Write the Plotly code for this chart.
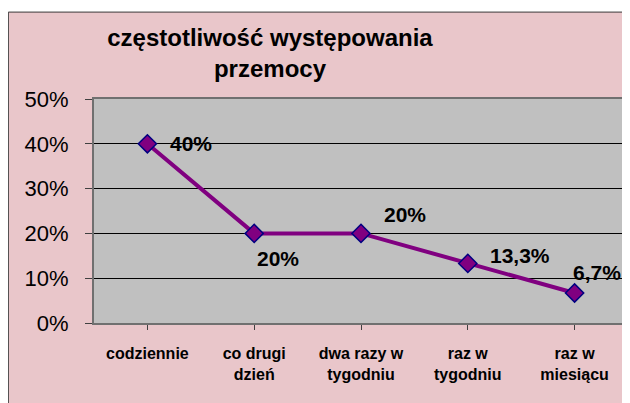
import plotly.graph_objects as go
import pandas as pd

df = pd.DataFrame(
    {
        "czestotliwosc": [
            "codziennie",
            "co drugi<br>dzień",
            "dwa razy w<br>tygodniu",
            "raz w<br>tygodniu",
            "raz w<br>miesiącu",
        ],
        "udzial": [0.40, 0.20, 0.20, 0.133, 0.067],
        "etykieta": ["40%", "20%", "20%", "13,3%", "6,7%"],
        "dx": [44, 24, 44, 52, 22],
        "dy": [0, -25, 19, 8, 20],
    }
)

fig = go.Figure()

fig.add_trace(
    go.Scatter(
        x=list(range(len(df))),
        y=df["udzial"],
        mode="lines+markers",
        line=dict(color="#800080", width=4),
        marker=dict(symbol="diamond", size=14, color="#800080",
                    line=dict(color="#000080", width=1.5)),
        showlegend=False,
        hoverinfo="skip",
    )
)

for i, row in df.iterrows():
    fig.add_annotation(
        x=i, y=row["udzial"], text="<b>%s</b>" % row["etykieta"], showarrow=False,
        xshift=row["dx"], yshift=row["dy"],
        font=dict(family="Liberation Sans, Arial", size=21, color="black"),
    )

# tło wykresu (różowe) i obszar kreślenia (szary)
fig.add_shape(type="rect", xref="paper", yref="paper", layer="below",
              x0=-0.1604, x1=1.05, y0=-0.5, y1=1.388,
              fillcolor="#e9c6ca", line=dict(color="#3a3a3a", width=1))
fig.add_shape(type="rect", xref="paper", yref="paper", layer="below",
              x0=0, x1=1, y0=0, y1=1,
              fillcolor="#c0c0c0", line=dict(width=0))

# strona ma domyślny margines 8 px, więc figura jest o 8 px mniejsza
fig.update_layout(
    width=622,
    height=395,
    margin=dict(l=86, r=0, t=91, b=80),
    paper_bgcolor="white",
    plot_bgcolor="rgba(0,0,0,0)",
    font=dict(family="Liberation Sans, Arial", color="black"),
    title=dict(
        text="<b>częstotliwość występowania<br>przemocy</b>",
        x=0.4212, xanchor="center", xref="container",
        y=1 - 38 / 395, yanchor="top", yref="container",
        font=dict(size=24, color="black"),
    ),
    xaxis=dict(
        tickmode="array",
        tickvals=list(range(len(df))),
        ticktext=["<b>%s</b>" % t for t in df["czestotliwosc"]],
        range=[-0.5, 4.5],
        tickfont=dict(size=16),
        ticks="outside", ticklen=5, tickcolor="#404040",
        tickson="boundaries",
        ticklabelstandoff=10,
        showgrid=False, zeroline=False,
        showline=True, linecolor="#707070", linewidth=2, mirror=True,
    ),
    yaxis=dict(
        range=[0, 0.5],
        tickvals=[0, 0.1, 0.2, 0.3, 0.4, 0.5],
        tickformat=".0%",
        tickfont=dict(size=22),
        ticks="outside", ticklen=7, tickcolor="#404040",
        ticklabelstandoff=12,
        showgrid=True, gridcolor="black", gridwidth=1,
        zeroline=False,
        showline=True, linecolor="#707070", linewidth=2, mirror=True,
    ),
)

fig.write_html("out.html")
